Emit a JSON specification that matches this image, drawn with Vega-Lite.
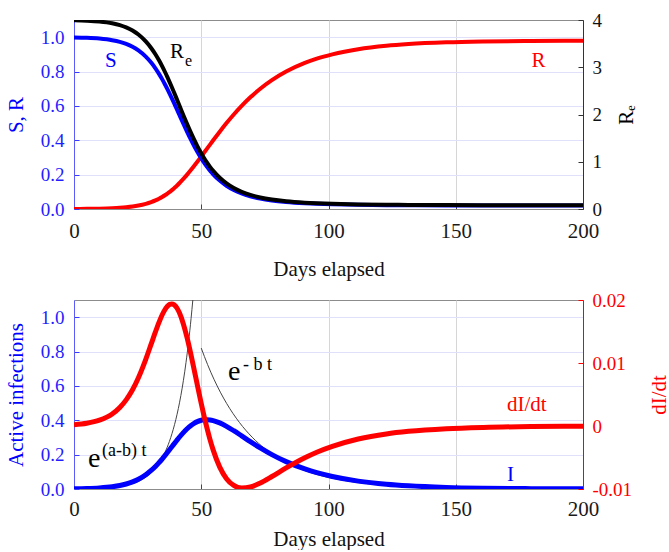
{
  "$schema": "https://vega.github.io/schema/vega-lite/v6.json",
  "background": "white",
  "padding": {"left": 4, "top": 10, "right": 0, "bottom": 0},
  "bounds": "flush",
  "spacing": 91,
  "config": {
    "font": "Liberation Serif",
    "view": {"stroke": "#8c8c8c", "strokeWidth": 1},
    "axis": {"labelFont": "Liberation Serif", "titleFont": "Liberation Serif", "titleFontWeight": "normal", "labelFontSize": 19, "titleFontSize": 21, "tickSize": -5, "labelPadding": 15}
  },
  "datasets": {
    "sir": [
      {"t": 0, "S": 0.9982, "I": 0.0014, "R": 0.0005, "Re": 3.9928, "D": 0.00021},
      {"t": 5, "S": 0.9961, "I": 0.0029, "R": 0.0010, "Re": 3.9844, "D": 0.00044},
      {"t": 10, "S": 0.9917, "I": 0.0062, "R": 0.0021, "Re": 3.9668, "D": 0.00092},
      {"t": 15, "S": 0.9826, "I": 0.0130, "R": 0.0044, "Re": 3.9304, "D": 0.00190},
      {"t": 18, "S": 0.9729, "I": 0.0202, "R": 0.0069, "Re": 3.8916, "D": 0.00293},
      {"t": 20.5, "S": 0.9608, "I": 0.0292, "R": 0.0100, "Re": 3.8432, "D": 0.00415},
      {"t": 23, "S": 0.9443, "I": 0.0414, "R": 0.0143, "Re": 3.7770, "D": 0.00575},
      {"t": 25.31, "S": 0.9231, "I": 0.0569, "R": 0.0200, "Re": 3.6925, "D": 0.00766},
      {"t": 28.2, "S": 0.8869, "I": 0.0831, "R": 0.0300, "Re": 3.5477, "D": 0.01058},
      {"t": 30.31, "S": 0.8521, "I": 0.1079, "R": 0.0400, "Re": 3.4086, "D": 0.01299},
      {"t": 31.99, "S": 0.8187, "I": 0.1313, "R": 0.0500, "Re": 3.2749, "D": 0.01493},
      {"t": 33.4, "S": 0.7866, "I": 0.1534, "R": 0.0600, "Re": 3.1465, "D": 0.01646},
      {"t": 34.62, "S": 0.7558, "I": 0.1742, "R": 0.0700, "Re": 3.0231, "D": 0.01762},
      {"t": 35.71, "S": 0.7262, "I": 0.1939, "R": 0.0800, "Re": 2.9046, "D": 0.01846},
      {"t": 36.7, "S": 0.6977, "I": 0.2123, "R": 0.0900, "Re": 2.7907, "D": 0.01901},
      {"t": 37.61, "S": 0.6703, "I": 0.2297, "R": 0.1000, "Re": 2.6813, "D": 0.01931},
      {"t": 38.45, "S": 0.6440, "I": 0.2460, "R": 0.1100, "Re": 2.5762, "D": 0.01938},
      {"t": 39.24, "S": 0.6188, "I": 0.2612, "R": 0.1200, "Re": 2.4751, "D": 0.01927},
      {"t": 39.99, "S": 0.5945, "I": 0.2755, "R": 0.1300, "Re": 2.3781, "D": 0.01898},
      {"t": 40.7, "S": 0.5712, "I": 0.2888, "R": 0.1400, "Re": 2.2848, "D": 0.01855},
      {"t": 41.38, "S": 0.5488, "I": 0.3012, "R": 0.1500, "Re": 2.1952, "D": 0.01800},
      {"t": 42.97, "S": 0.4966, "I": 0.3284, "R": 0.1750, "Re": 1.9864, "D": 0.01620},
      {"t": 44.45, "S": 0.4493, "I": 0.3507, "R": 0.2000, "Re": 1.7973, "D": 0.01398},
      {"t": 45.84, "S": 0.4066, "I": 0.3684, "R": 0.2250, "Re": 1.6263, "D": 0.01154},
      {"t": 47.17, "S": 0.3679, "I": 0.3821, "R": 0.2500, "Re": 1.4715, "D": 0.00901},
      {"t": 48.46, "S": 0.3329, "I": 0.3921, "R": 0.2750, "Re": 1.3315, "D": 0.00650},
      {"t": 49.72, "S": 0.3012, "I": 0.3988, "R": 0.3000, "Re": 1.2048, "D": 0.00408},
      {"t": 50.97, "S": 0.2725, "I": 0.4025, "R": 0.3250, "Re": 1.0901, "D": 0.00181},
      {"t": 52.21, "S": 0.2466, "I": 0.4034, "R": 0.3500, "Re": 0.9864, "D": -0.00027},
      {"t": 53.45, "S": 0.2231, "I": 0.4019, "R": 0.3750, "Re": 0.8925, "D": -0.00216},
      {"t": 54.7, "S": 0.2019, "I": 0.3981, "R": 0.4000, "Re": 0.8076, "D": -0.00383},
      {"t": 57.26, "S": 0.1653, "I": 0.3847, "R": 0.4500, "Re": 0.6612, "D": -0.00652},
      {"t": 59.93, "S": 0.1353, "I": 0.3647, "R": 0.5000, "Re": 0.5413, "D": -0.00836},
      {"t": 62.78, "S": 0.1108, "I": 0.3392, "R": 0.5500, "Re": 0.4432, "D": -0.00944},
      {"t": 65.87, "S": 0.0907, "I": 0.3093, "R": 0.6000, "Re": 0.3629, "D": -0.00985},
      {"t": 69.29, "S": 0.0743, "I": 0.2757, "R": 0.6500, "Re": 0.2971, "D": -0.00969},
      {"t": 73.18, "S": 0.0608, "I": 0.2392, "R": 0.7000, "Re": 0.2432, "D": -0.00905},
      {"t": 77.75, "S": 0.0498, "I": 0.2002, "R": 0.7500, "Re": 0.1992, "D": -0.00802},
      {"t": 83.35, "S": 0.0408, "I": 0.1592, "R": 0.8000, "Re": 0.1630, "D": -0.00666},
      {"t": 90.7, "S": 0.0334, "I": 0.1166, "R": 0.8500, "Re": 0.1335, "D": -0.00505},
      {"t": 95.4, "S": 0.0302, "I": 0.0948, "R": 0.8750, "Re": 0.1208, "D": -0.00417},
      {"t": 101.5, "S": 0.0273, "I": 0.0727, "R": 0.9000, "Re": 0.1093, "D": -0.00324},
      {"t": 111.68, "S": 0.0242, "I": 0.0458, "R": 0.9300, "Re": 0.0970, "D": -0.00207},
      {"t": 122.72, "S": 0.0224, "I": 0.0276, "R": 0.9500, "Re": 0.0895, "D": -0.00126},
      {"t": 131.46, "S": 0.0215, "I": 0.0185, "R": 0.9600, "Re": 0.0860, "D": -0.00085},
      {"t": 146.3, "S": 0.0207, "I": 0.0094, "R": 0.9700, "Re": 0.0826, "D": -0.00043},
      {"t": 160.9, "S": 0.0202, "I": 0.0048, "R": 0.9750, "Re": 0.0810, "D": -0.00022},
      {"t": 179.6, "S": 0.0200, "I": 0.0020, "R": 0.9780, "Re": 0.0800, "D": -0.00009},
      {"t": 192.8, "S": 0.0199, "I": 0.0011, "R": 0.9790, "Re": 0.0797, "D": -0.00005},
      {"t": 200, "S": 0.0199, "I": 0.0008, "R": 0.9793, "Re": 0.0796, "D": -0.00004}
    ],
    "expgrow": [
      {"t": 0, "v": 0.0010}, {"t": 10, "v": 0.0045}, {"t": 20, "v": 0.0201}, {"t": 25, "v": 0.0425},
      {"t": 30, "v": 0.0900}, {"t": 33, "v": 0.1412}, {"t": 36, "v": 0.2214}, {"t": 38, "v": 0.2989},
      {"t": 40, "v": 0.4034}, {"t": 41, "v": 0.4688}, {"t": 42, "v": 0.5446}, {"t": 43, "v": 0.6327},
      {"t": 44, "v": 0.7351}, {"t": 45, "v": 0.8541}, {"t": 46, "v": 0.9923}, {"t": 46.69, "v": 1.1}
    ],
    "expdecay": [
      {"t": 50, "v": 0.82}, {"t": 52.5, "v": 0.7237}, {"t": 55, "v": 0.6386}, {"t": 57.5, "v": 0.5636}, {"t": 60, "v": 0.4973},
      {"t": 65, "v": 0.3873}, {"t": 70, "v": 0.3017}, {"t": 75, "v": 0.2349}, {"t": 80, "v": 0.1830},
      {"t": 85, "v": 0.1425}, {"t": 90, "v": 0.1110}, {"t": 95, "v": 0.0864}, {"t": 100, "v": 0.0673},
      {"t": 110, "v": 0.0408}, {"t": 120, "v": 0.0248}, {"t": 130, "v": 0.0150}, {"t": 140, "v": 0.0091},
      {"t": 150, "v": 0.0055}, {"t": 175, "v": 0.0016}, {"t": 200, "v": 0.0005}
    ],
    "labels": [
      {"panel": "top", "kind": "main", "text": "S", "t": 12.2, "v": 0.824, "series": "S"},
      {"panel": "top", "kind": "main", "text": "R", "t": 37.7, "v": 0.878, "series": "Re"},
      {"panel": "top", "kind": "sub", "text": "e", "t": 43.6, "v": 0.830, "series": "Re"},
      {"panel": "top", "kind": "main", "text": "R", "t": 179.8, "v": 0.824, "series": "R"},
      {"panel": "bottom", "kind": "big", "text": "e", "t": 5.5, "v": 0.126, "series": "fit"},
      {"panel": "bottom", "kind": "sup", "text": "(a-b) t", "t": 11.0, "v": 0.193, "series": "fit"},
      {"panel": "bottom", "kind": "big", "text": "e", "t": 60.5, "v": 0.633, "series": "fit"},
      {"panel": "bottom", "kind": "sup", "text": "- b t", "t": 66.4, "v": 0.691, "series": "fit"},
      {"panel": "bottom", "kind": "main", "text": "dI/dt", "t": 170.1, "v": 0.453, "series": "dI/dt"},
      {"panel": "bottom", "kind": "main", "text": "I", "t": 170.1, "v": 0.048, "series": "I"}
    ]
  },
  "vconcat": [
    {
      "width": 509,
      "height": 189,
      "layer": [
        {
          "layer": [
            {
              "data": {"name": "sir"},
              "mark": {"type": "line", "color": "#ff0000", "strokeWidth": 4, "interpolate": "monotone", "clip": true},
              "encoding": {
                "x": {"field": "t", "type": "quantitative", "scale": {"domain": [0, 200], "nice": false}, "axis": {"values": [0, 50, 100, 150, 200], "title": "Days elapsed", "labelFontSize": 21, "labelColor": "#1a1a1a", "titleColor": "#111111", "grid": true, "gridColor": "#d6d6d6", "domainColor": "#8c8c8c", "tickColor": "#444444", "labelPadding": 16, "titlePadding": 17, "labelFlush": false}},
                "y": {"field": "R", "type": "quantitative", "scale": {"domain": [0, 1.1], "nice": false}, "axis": {"orient": "left", "values": [0, 0.2, 0.4, 0.6, 0.8, 1.0], "format": ".1f", "title": "S, R", "titleColor": "#0000ff", "labelColor": "#1f1fff", "domainColor": "#5a5aff", "tickColor": "#3a3aff", "grid": true, "gridColor": "#e0e0fa", "titlePadding": 14}}
              }
            },
            {
              "data": {"name": "sir"},
              "mark": {"type": "line", "color": "#0000ff", "strokeWidth": 4, "interpolate": "monotone", "clip": true},
              "encoding": {
                "x": {"field": "t", "type": "quantitative", "scale": {"domain": [0, 200], "nice": false}, "axis": {"values": [0, 50, 100, 150, 200], "title": "Days elapsed", "labelFontSize": 21, "labelColor": "#1a1a1a", "titleColor": "#111111", "grid": true, "gridColor": "#d6d6d6", "domainColor": "#8c8c8c", "tickColor": "#444444", "labelPadding": 16, "titlePadding": 17, "labelFlush": false}},
                "y": {"field": "S", "type": "quantitative", "scale": {"domain": [0, 1.1], "nice": false}, "axis": {"orient": "left", "values": [0, 0.2, 0.4, 0.6, 0.8, 1.0], "format": ".1f", "title": "S, R", "titleColor": "#0000ff", "labelColor": "#1f1fff", "domainColor": "#5a5aff", "tickColor": "#3a3aff", "grid": true, "gridColor": "#e0e0fa", "titlePadding": 14}}
              }
            },
            {
              "data": {"name": "labels"},
              "transform": [{"filter": "datum.panel == 'top' && datum.kind == 'main'"}],
              "mark": {"type": "text", "fontSize": 21, "align": "left", "baseline": "alphabetic"},
              "encoding": {
                "x": {"field": "t", "type": "quantitative", "scale": {"domain": [0, 200], "nice": false}, "axis": {"values": [0, 50, 100, 150, 200], "title": "Days elapsed", "labelFontSize": 21, "labelColor": "#1a1a1a", "titleColor": "#111111", "grid": true, "gridColor": "#d6d6d6", "domainColor": "#8c8c8c", "tickColor": "#444444", "labelPadding": 16, "titlePadding": 17, "labelFlush": false}},
                "y": {"field": "v", "type": "quantitative", "scale": {"domain": [0, 1.1], "nice": false}, "axis": {"orient": "left", "values": [0, 0.2, 0.4, 0.6, 0.8, 1.0], "format": ".1f", "title": "S, R", "titleColor": "#0000ff", "labelColor": "#1f1fff", "domainColor": "#5a5aff", "tickColor": "#3a3aff", "grid": true, "gridColor": "#e0e0fa", "titlePadding": 14}},
                "text": {"field": "text"},
                "color": {"field": "series", "type": "nominal", "scale": {"domain": ["S", "R", "Re", "fit", "dI/dt", "I"], "range": ["#0000ff", "#ff0000", "#000000", "#000000", "#ff0000", "#0000ff"]}, "legend": null}
              }
            },
            {
              "data": {"name": "labels"},
              "transform": [{"filter": "datum.panel == 'top' && datum.kind == 'sub'"}],
              "mark": {"type": "text", "fontSize": 16, "align": "left", "baseline": "alphabetic"},
              "encoding": {
                "x": {"field": "t", "type": "quantitative", "scale": {"domain": [0, 200], "nice": false}, "axis": {"values": [0, 50, 100, 150, 200], "title": "Days elapsed", "labelFontSize": 21, "labelColor": "#1a1a1a", "titleColor": "#111111", "grid": true, "gridColor": "#d6d6d6", "domainColor": "#8c8c8c", "tickColor": "#444444", "labelPadding": 16, "titlePadding": 17, "labelFlush": false}},
                "y": {"field": "v", "type": "quantitative", "scale": {"domain": [0, 1.1], "nice": false}, "axis": {"orient": "left", "values": [0, 0.2, 0.4, 0.6, 0.8, 1.0], "format": ".1f", "title": "S, R", "titleColor": "#0000ff", "labelColor": "#1f1fff", "domainColor": "#5a5aff", "tickColor": "#3a3aff", "grid": true, "gridColor": "#e0e0fa", "titlePadding": 14}},
                "text": {"field": "text"},
                "color": {"field": "series", "type": "nominal", "scale": {"domain": ["S", "R", "Re", "fit", "dI/dt", "I"], "range": ["#0000ff", "#ff0000", "#000000", "#000000", "#ff0000", "#0000ff"]}, "legend": null}
              }
            }
          ]
        },
        {
          "data": {"name": "sir"},
          "mark": {"type": "line", "color": "#000000", "strokeWidth": 4, "interpolate": "monotone", "clip": true},
          "encoding": {
            "x": {"field": "t", "type": "quantitative", "scale": {"domain": [0, 200], "nice": false}, "axis": {"values": [0, 50, 100, 150, 200], "title": "Days elapsed", "labelFontSize": 21, "labelColor": "#1a1a1a", "titleColor": "#111111", "grid": true, "gridColor": "#d6d6d6", "domainColor": "#8c8c8c", "tickColor": "#444444", "labelPadding": 16, "titlePadding": 17, "labelFlush": false}},
            "y": {"field": "Re", "type": "quantitative", "scale": {"domain": [0, 4], "nice": false}, "axis": {"orient": "right", "values": [0, 1, 2, 3, 4], "title": "Rₑ", "titleAngle": 270, "titleBaseline": "top", "titleX": 32, "titleColor": "#000000", "labelColor": "#111111", "domainColor": "#333333", "tickColor": "#333333", "grid": false, "labelPadding": 14}}
          }
        }
      ],
      "resolve": {"scale": {"y": "independent"}}
    },
    {
      "width": 509,
      "height": 189,
      "layer": [
        {
          "layer": [
            {
              "data": {"name": "expgrow"},
              "mark": {"type": "line", "color": "#444444", "strokeWidth": 1, "interpolate": "monotone", "clip": true},
              "encoding": {
                "x": {"field": "t", "type": "quantitative", "scale": {"domain": [0, 200], "nice": false}, "axis": {"values": [0, 50, 100, 150, 200], "title": "Days elapsed", "labelFontSize": 21, "labelColor": "#1a1a1a", "titleColor": "#111111", "grid": true, "gridColor": "#d6d6d6", "domainColor": "#8c8c8c", "tickColor": "#444444", "labelPadding": 14, "titlePadding": 9, "labelFlush": false}},
                "y": {"field": "v", "type": "quantitative", "scale": {"domain": [0, 1.1], "nice": false}, "axis": {"orient": "left", "values": [0, 0.2, 0.4, 0.6, 0.8, 1.0], "format": ".1f", "title": "Active infections", "titleColor": "#0000ff", "labelColor": "#1f1fff", "domainColor": "#5a5aff", "tickColor": "#3a3aff", "grid": true, "gridColor": "#e0e0fa", "titlePadding": 14}}
              }
            },
            {
              "data": {"name": "expdecay"},
              "mark": {"type": "line", "color": "#444444", "strokeWidth": 1, "interpolate": "monotone", "clip": true},
              "encoding": {
                "x": {"field": "t", "type": "quantitative", "scale": {"domain": [0, 200], "nice": false}, "axis": {"values": [0, 50, 100, 150, 200], "title": "Days elapsed", "labelFontSize": 21, "labelColor": "#1a1a1a", "titleColor": "#111111", "grid": true, "gridColor": "#d6d6d6", "domainColor": "#8c8c8c", "tickColor": "#444444", "labelPadding": 14, "titlePadding": 9, "labelFlush": false}},
                "y": {"field": "v", "type": "quantitative", "scale": {"domain": [0, 1.1], "nice": false}, "axis": {"orient": "left", "values": [0, 0.2, 0.4, 0.6, 0.8, 1.0], "format": ".1f", "title": "Active infections", "titleColor": "#0000ff", "labelColor": "#1f1fff", "domainColor": "#5a5aff", "tickColor": "#3a3aff", "grid": true, "gridColor": "#e0e0fa", "titlePadding": 14}}
              }
            },
            {
              "data": {"name": "sir"},
              "mark": {"type": "line", "color": "#0000ff", "strokeWidth": 5, "interpolate": "monotone", "clip": true},
              "encoding": {
                "x": {"field": "t", "type": "quantitative", "scale": {"domain": [0, 200], "nice": false}, "axis": {"values": [0, 50, 100, 150, 200], "title": "Days elapsed", "labelFontSize": 21, "labelColor": "#1a1a1a", "titleColor": "#111111", "grid": true, "gridColor": "#d6d6d6", "domainColor": "#8c8c8c", "tickColor": "#444444", "labelPadding": 14, "titlePadding": 9, "labelFlush": false}},
                "y": {"field": "I", "type": "quantitative", "scale": {"domain": [0, 1.1], "nice": false}, "axis": {"orient": "left", "values": [0, 0.2, 0.4, 0.6, 0.8, 1.0], "format": ".1f", "title": "Active infections", "titleColor": "#0000ff", "labelColor": "#1f1fff", "domainColor": "#5a5aff", "tickColor": "#3a3aff", "grid": true, "gridColor": "#e0e0fa", "titlePadding": 14}}
              }
            },
            {
              "data": {"name": "labels"},
              "transform": [{"filter": "datum.panel == 'bottom' && datum.kind == 'main'"}],
              "mark": {"type": "text", "fontSize": 21, "align": "left", "baseline": "alphabetic"},
              "encoding": {
                "x": {"field": "t", "type": "quantitative", "scale": {"domain": [0, 200], "nice": false}, "axis": {"values": [0, 50, 100, 150, 200], "title": "Days elapsed", "labelFontSize": 21, "labelColor": "#1a1a1a", "titleColor": "#111111", "grid": true, "gridColor": "#d6d6d6", "domainColor": "#8c8c8c", "tickColor": "#444444", "labelPadding": 14, "titlePadding": 9, "labelFlush": false}},
                "y": {"field": "v", "type": "quantitative", "scale": {"domain": [0, 1.1], "nice": false}, "axis": {"orient": "left", "values": [0, 0.2, 0.4, 0.6, 0.8, 1.0], "format": ".1f", "title": "Active infections", "titleColor": "#0000ff", "labelColor": "#1f1fff", "domainColor": "#5a5aff", "tickColor": "#3a3aff", "grid": true, "gridColor": "#e0e0fa", "titlePadding": 14}},
                "text": {"field": "text"},
                "color": {"field": "series", "type": "nominal", "scale": {"domain": ["S", "R", "Re", "fit", "dI/dt", "I"], "range": ["#0000ff", "#ff0000", "#000000", "#000000", "#ff0000", "#0000ff"]}, "legend": null}
              }
            },
            {
              "data": {"name": "labels"},
              "transform": [{"filter": "datum.panel == 'bottom' && datum.kind == 'big'"}],
              "mark": {"type": "text", "fontSize": 28, "align": "left", "baseline": "alphabetic"},
              "encoding": {
                "x": {"field": "t", "type": "quantitative", "scale": {"domain": [0, 200], "nice": false}, "axis": {"values": [0, 50, 100, 150, 200], "title": "Days elapsed", "labelFontSize": 21, "labelColor": "#1a1a1a", "titleColor": "#111111", "grid": true, "gridColor": "#d6d6d6", "domainColor": "#8c8c8c", "tickColor": "#444444", "labelPadding": 14, "titlePadding": 9, "labelFlush": false}},
                "y": {"field": "v", "type": "quantitative", "scale": {"domain": [0, 1.1], "nice": false}, "axis": {"orient": "left", "values": [0, 0.2, 0.4, 0.6, 0.8, 1.0], "format": ".1f", "title": "Active infections", "titleColor": "#0000ff", "labelColor": "#1f1fff", "domainColor": "#5a5aff", "tickColor": "#3a3aff", "grid": true, "gridColor": "#e0e0fa", "titlePadding": 14}},
                "text": {"field": "text"},
                "color": {"field": "series", "type": "nominal", "scale": {"domain": ["S", "R", "Re", "fit", "dI/dt", "I"], "range": ["#0000ff", "#ff0000", "#000000", "#000000", "#ff0000", "#0000ff"]}, "legend": null}
              }
            },
            {
              "data": {"name": "labels"},
              "transform": [{"filter": "datum.panel == 'bottom' && datum.kind == 'sup'"}],
              "mark": {"type": "text", "fontSize": 18, "align": "left", "baseline": "alphabetic"},
              "encoding": {
                "x": {"field": "t", "type": "quantitative", "scale": {"domain": [0, 200], "nice": false}, "axis": {"values": [0, 50, 100, 150, 200], "title": "Days elapsed", "labelFontSize": 21, "labelColor": "#1a1a1a", "titleColor": "#111111", "grid": true, "gridColor": "#d6d6d6", "domainColor": "#8c8c8c", "tickColor": "#444444", "labelPadding": 14, "titlePadding": 9, "labelFlush": false}},
                "y": {"field": "v", "type": "quantitative", "scale": {"domain": [0, 1.1], "nice": false}, "axis": {"orient": "left", "values": [0, 0.2, 0.4, 0.6, 0.8, 1.0], "format": ".1f", "title": "Active infections", "titleColor": "#0000ff", "labelColor": "#1f1fff", "domainColor": "#5a5aff", "tickColor": "#3a3aff", "grid": true, "gridColor": "#e0e0fa", "titlePadding": 14}},
                "text": {"field": "text"},
                "color": {"field": "series", "type": "nominal", "scale": {"domain": ["S", "R", "Re", "fit", "dI/dt", "I"], "range": ["#0000ff", "#ff0000", "#000000", "#000000", "#ff0000", "#0000ff"]}, "legend": null}
              }
            }
          ]
        },
        {
          "data": {"name": "sir"},
          "mark": {"type": "line", "color": "#ff0000", "strokeWidth": 5, "interpolate": "monotone", "clip": true},
          "encoding": {
            "x": {"field": "t", "type": "quantitative", "scale": {"domain": [0, 200], "nice": false}, "axis": {"values": [0, 50, 100, 150, 200], "title": "Days elapsed", "labelFontSize": 21, "labelColor": "#1a1a1a", "titleColor": "#111111", "grid": true, "gridColor": "#d6d6d6", "domainColor": "#8c8c8c", "tickColor": "#444444", "labelPadding": 14, "titlePadding": 9, "labelFlush": false}},
            "y": {"field": "D", "type": "quantitative", "scale": {"domain": [-0.01, 0.02], "nice": false}, "axis": {"orient": "right", "values": [-0.01, 0, 0.01, 0.02], "labelExpr": "datum.value == 0 ? '0' : (datum.value < 0 ? '-' + format(-datum.value, '.2f') : format(datum.value, '.2f'))", "title": "dI/dt", "titleAngle": 270, "titleBaseline": "top", "titleX": 65, "titleColor": "#ff0000", "labelColor": "#ff0000", "domainColor": "#ff0000", "tickColor": "#ff0000", "grid": false, "labelPadding": 14}}
          }
        }
      ],
      "resolve": {"scale": {"y": "independent"}}
    }
  ]
}
